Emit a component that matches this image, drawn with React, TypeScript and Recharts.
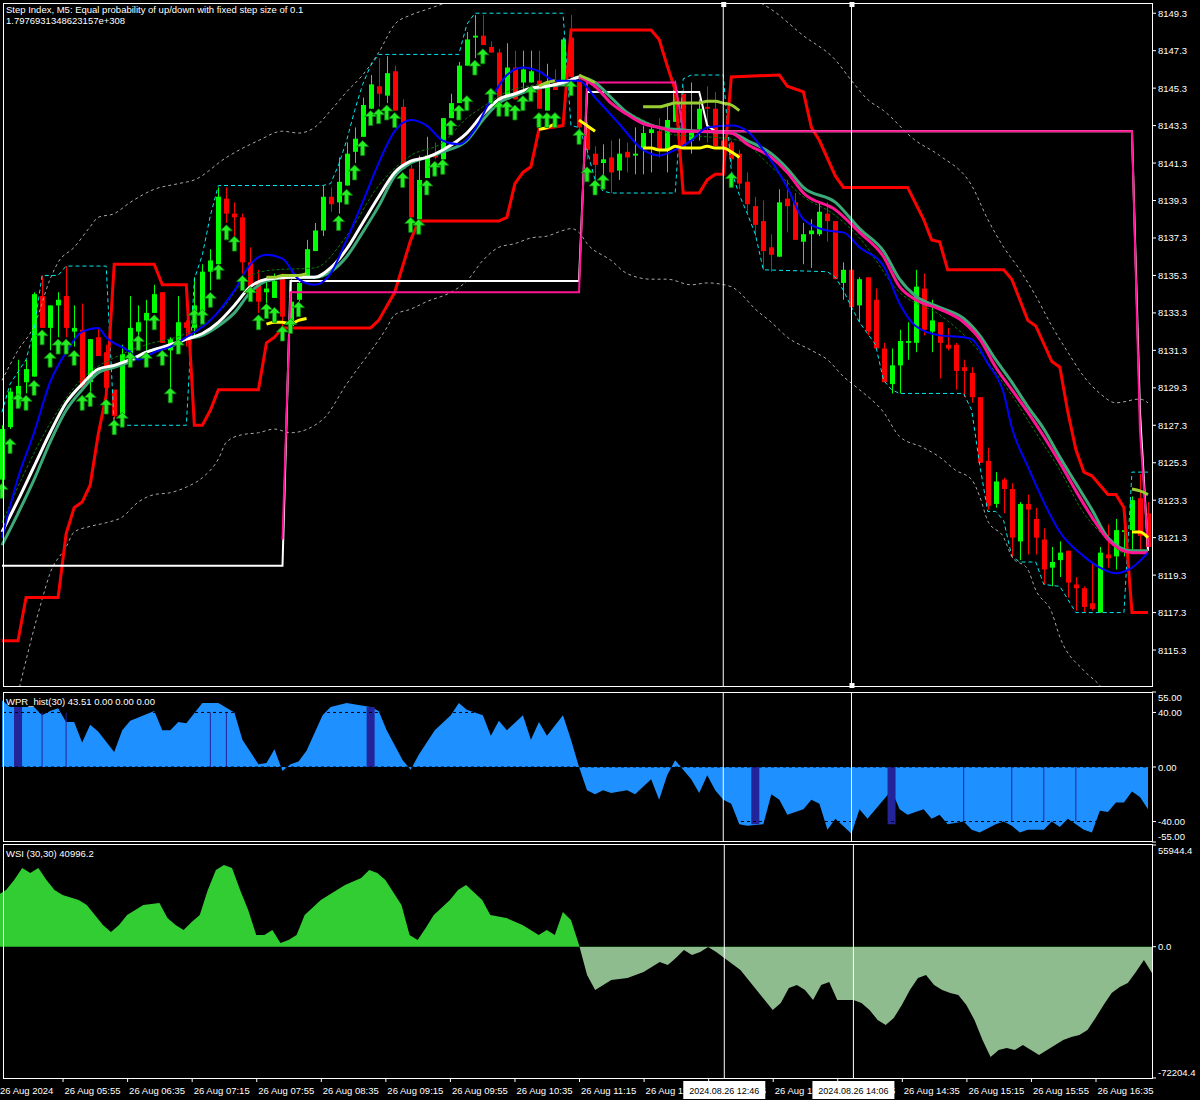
import React from "react";
import { Area, Bar, ComposedChart, Line, ReferenceLine, XAxis, YAxis } from "recharts";

const FONT = '"Liberation Sans", Arial, sans-serif';

// time axis: one label every 8 bars (M5)
const timeLabels = [
  "26 Aug 2024", "26 Aug 05:55", "26 Aug 06:35", "26 Aug 07:15", "26 Aug 07:55", "26 Aug 08:35",
  "26 Aug 09:15", "26 Aug 09:55", "26 Aug 10:35", "26 Aug 11:15", "26 Aug 11:55", "26 Aug 12:35",
  "26 Aug 13:15", "26 Aug 13:55", "26 Aug 14:35", "26 Aug 15:15", "26 Aug 15:55", "26 Aug 16:35",
];
const priceTicks = [8149.3, 8147.3, 8145.3, 8143.3, 8141.3, 8139.3, 8137.3, 8135.3, 8133.3, 8131.3, 8129.3, 8127.3, 8125.3, 8123.3, 8121.3, 8119.3, 8117.3, 8115.3];
const wprTicks = [55, 40, 0, -40, -55];
const wsiTicks = [55944.4, 0, -72204.4];

const opens = [
  8124.4, 8127.2, 8128.3, 8129.6, 8129.9, 8134.2, 8132.5, 8133.7,
  8134.2, 8132.3, 8132.4, 8129.6, 8132.0, 8131.2, 8129.2, 8127.9,
  8131.0, 8132.3, 8132.9, 8133.3, 8134.4, 8131.3, 8131.6, 8132.8,
  8132.5, 8133.1, 8135.5, 8135.9, 8139.4, 8138.6, 8138.4, 8136.0,
  8135.0, 8134.4, 8134.1, 8135.2, 8132.6, 8134.0, 8135.2, 8136.6,
  8137.7, 8139.5, 8139.2, 8140.1, 8141.9, 8142.7, 8144.2, 8145.4,
  8144.9, 8146.2, 8144.3, 8141.0, 8138.3, 8140.5, 8141.8, 8141.5,
  8143.7, 8144.5, 8146.5, 8148.0, 8148.1, 8147.5, 8147.2, 8144.7,
  8146.4, 8145.6, 8145.6, 8145.7, 8144.1, 8145.6, 8145.4, 8148.0,
  8145.7, 8143.2, 8141.8, 8141.3, 8141.6, 8140.9, 8141.9, 8141.7,
  8142.1, 8142.9, 8143.0, 8142.0, 8143.5, 8145.0, 8142.5, 8143.1,
  8144.3, 8144.2, 8142.5, 8142.4, 8141.8, 8140.3, 8139.0, 8138.2,
  8136.8, 8136.3, 8139.4, 8139.2, 8137.1, 8137.5, 8137.5, 8138.6,
  8138.2, 8134.9, 8135.6, 8133.7, 8135.2, 8134.0, 8131.4, 8129.5,
  8130.5, 8131.7, 8131.7, 8134.6, 8132.3, 8132.8, 8131.6, 8131.6,
  8130.4, 8130.1, 8128.8, 8125.4, 8123.1, 8124.4, 8123.9, 8121.1,
  8123.1, 8122.3, 8121.2, 8119.7, 8120.1, 8120.6, 8118.8, 8118.6,
  8117.8, 8117.3, 8120.4, 8120.3, 8121.6, 8121.7, 8123.4, 8122.6,
];
const highs = [
  8127.3, 8129.3, 8130.8, 8130.8, 8134.4, 8135.3, 8133.7, 8134.4,
  8135.8, 8133.7, 8133.8, 8131.9, 8132.5, 8131.6, 8129.2, 8131.6,
  8134.2, 8133.7, 8134.0, 8134.8, 8134.4, 8132.0, 8134.2, 8132.9,
  8135.2, 8135.9, 8136.7, 8140.0, 8140.0, 8139.2, 8138.6, 8136.8,
  8135.6, 8135.2, 8135.4, 8135.4, 8135.1, 8135.2, 8137.2, 8138.1,
  8140.1, 8140.0, 8141.6, 8142.4, 8143.2, 8144.8, 8146.0, 8146.9,
  8147.0, 8146.5, 8144.7, 8141.2, 8141.7, 8142.7, 8142.4, 8143.7,
  8145.0, 8146.7, 8148.3, 8149.2, 8149.2, 8147.8, 8147.4, 8147.7,
  8147.3, 8147.3, 8147.3, 8147.3, 8146.6, 8146.3, 8148.0, 8149.2,
  8146.0, 8143.5, 8142.2, 8142.3, 8142.5, 8142.6, 8142.4, 8143.2,
  8143.3, 8143.3, 8143.7, 8144.5, 8145.7, 8145.4, 8145.6, 8144.7,
  8145.4, 8145.1, 8142.9, 8142.5, 8142.0, 8140.8, 8139.5, 8139.3,
  8137.5, 8139.9, 8140.4, 8139.7, 8138.1, 8138.3, 8139.2, 8139.2,
  8138.2, 8136.0, 8135.6, 8135.2, 8135.2, 8134.6, 8131.7, 8131.4,
  8132.4, 8132.8, 8135.6, 8135.4, 8134.0, 8132.8, 8132.5, 8131.7,
  8130.8, 8130.4, 8128.8, 8126.1, 8124.8, 8124.5, 8124.2, 8123.2,
  8123.6, 8122.9, 8121.8, 8120.8, 8121.1, 8120.6, 8119.2, 8118.7,
  8119.9, 8120.8, 8122.0, 8122.3, 8122.1, 8123.5, 8124.7, 8123.2,
];
const lows = [
  8124.1, 8127.1, 8128.3, 8129.0, 8129.9, 8132.5, 8131.3, 8132.0,
  8132.0, 8131.5, 8129.3, 8129.0, 8131.0, 8128.1, 8127.6, 8127.6,
  8131.0, 8131.9, 8131.3, 8133.3, 8131.7, 8129.3, 8131.6, 8131.5,
  8132.0, 8133.1, 8134.5, 8135.9, 8138.1, 8137.4, 8135.4, 8134.7,
  8133.3, 8133.8, 8134.1, 8132.5, 8132.4, 8133.9, 8135.2, 8136.6,
  8137.4, 8138.7, 8138.6, 8140.1, 8141.3, 8142.7, 8144.2, 8144.3,
  8144.5, 8144.1, 8141.0, 8138.4, 8138.3, 8140.5, 8141.5, 8141.5,
  8143.7, 8144.5, 8146.5, 8146.9, 8147.6, 8147.2, 8144.7, 8144.7,
  8144.7, 8145.0, 8145.6, 8144.2, 8144.1, 8145.2, 8145.4, 8145.7,
  8143.1, 8141.5, 8140.1, 8140.0, 8139.7, 8140.4, 8140.8, 8140.7,
  8140.7, 8140.8, 8141.6, 8140.8, 8143.5, 8142.1, 8141.8, 8142.5,
  8142.4, 8142.2, 8141.8, 8141.2, 8139.9, 8138.6, 8137.4, 8135.6,
  8135.5, 8136.3, 8137.6, 8137.2, 8135.9, 8135.7, 8137.4, 8137.1,
  8135.1, 8134.0, 8133.6, 8132.8, 8132.1, 8131.4, 8129.6, 8129.0,
  8129.0, 8130.8, 8131.2, 8132.1, 8131.2, 8129.8, 8131.3, 8129.2,
  8128.8, 8128.5, 8125.3, 8122.8, 8122.9, 8122.6, 8120.2, 8120.1,
  8120.4, 8120.4, 8118.8, 8118.7, 8119.2, 8118.1, 8117.4, 8117.3,
  8117.4, 8117.3, 8119.7, 8119.6, 8120.3, 8120.6, 8120.6, 8120.6,
];
const closes = [
  8127.1, 8129.1, 8129.4, 8130.3, 8134.3, 8132.5, 8133.7, 8134.0,
  8132.5, 8132.5, 8129.3, 8131.9, 8131.0, 8129.3, 8127.8, 8131.1,
  8132.5, 8132.8, 8133.3, 8134.3, 8131.7, 8131.9, 8132.8, 8132.5,
  8133.7, 8135.5, 8136.1, 8139.5, 8138.6, 8138.4, 8136.0, 8134.7,
  8133.9, 8134.6, 8135.0, 8133.1, 8133.9, 8134.9, 8136.7, 8137.7,
  8139.5, 8139.1, 8140.3, 8141.8, 8142.6, 8144.4, 8145.5, 8145.0,
  8146.1, 8144.1, 8141.0, 8138.4, 8140.4, 8141.7, 8141.6, 8143.7,
  8144.5, 8146.5, 8147.9, 8148.1, 8147.6, 8147.2, 8144.7, 8146.4,
  8144.7, 8146.3, 8146.2, 8144.2, 8145.6, 8145.2, 8147.9, 8145.9,
  8143.2, 8142.0, 8141.2, 8141.5, 8140.8, 8141.8, 8141.6, 8141.8,
  8142.9, 8143.1, 8142.0, 8143.6, 8145.2, 8142.1, 8143.0, 8144.2,
  8144.2, 8142.2, 8142.2, 8141.5, 8140.2, 8139.1, 8138.0, 8136.6,
  8136.4, 8139.2, 8139.0, 8137.2, 8137.5, 8137.7, 8138.7, 8138.2,
  8135.1, 8135.6, 8133.6, 8135.1, 8132.3, 8131.4, 8129.6, 8130.5,
  8131.8, 8131.8, 8134.7, 8132.4, 8132.9, 8131.7, 8131.4, 8130.2,
  8130.2, 8128.8, 8125.3, 8123.0, 8124.3, 8123.9, 8121.3, 8123.1,
  8122.8, 8121.3, 8119.6, 8120.0, 8120.5, 8118.9, 8118.6, 8117.6,
  8117.5, 8120.5, 8120.2, 8121.7, 8121.7, 8123.3, 8121.4, 8120.8,
];

// indicator lines, read as [bar, value] knots
type K = [number, number][];
const blueMa: K = [[0,8121.3],[2,8124.5],[4,8126.9],[6,8129.6],[8,8131.2],[10,8132.3],[12,8132.5],[13,8132.0],[16,8131.2],[17,8130.8],[19,8131.2],[21,8131.5],[23,8132.0],[26,8132.9],[29,8134.5],[31,8135.9],[33,8136.4],[35,8136.2],[37,8135.1],[39,8134.8],[41,8135.4],[43,8137.2],[45,8139.2],[47,8141.3],[49,8143.0],[51,8143.6],[53,8143.3],[55,8142.5],[57,8142.3],[59,8143.1],[61,8144.7],[63,8146.0],[65,8146.4],[67,8146.2],[69,8145.7],[72,8145.7],[74,8144.8],[77,8143.4],[80,8142.0],[82,8141.7],[84,8142.0],[86,8142.5],[88,8143.2],[91,8143.3],[93,8143.0],[95,8142.0],[98,8140.0],[100,8138.3],[103,8137.7],[105,8137.6],[107,8136.8],[110,8135.8],[112,8133.8],[114,8132.6],[117,8132.1],[120,8132.0],[121,8131.9],[123,8130.6],[125,8129.0],[126,8127.2],[128,8125.1],[130,8123.2],[132,8121.6],[135,8120.3],[137,8119.7],[139,8119.4],[141,8119.7],[143,8120.5]];
const tealMa: K = [[0,8120.9],[2,8122.6],[4,8124.4],[6,8126.4],[8,8128.1],[10,8129.2],[12,8130.1],[14,8130.4],[16,8130.7],[18,8131.2],[21,8131.5],[23,8131.9],[25,8132.1],[27,8132.6],[29,8133.3],[31,8134.4],[33,8135.0],[36,8135.2],[39,8135.2],[41,8135.5],[43,8136.3],[45,8137.6],[47,8139.0],[49,8140.6],[51,8141.3],[53,8141.6],[55,8141.9],[58,8142.5],[60,8143.6],[62,8144.5],[64,8144.9],[66,8145.2],[68,8145.4],[70,8145.5],[72,8145.9],[74,8145.6],[76,8144.8],[78,8144.0],[80,8143.5],[82,8143.2],[84,8143.1],[87,8143.0],[91,8142.9],[93,8142.5],[96,8141.8],[98,8141.0],[100,8140.0],[104,8139.2],[107,8137.8],[110,8136.6],[112,8135.1],[114,8134.2],[117,8133.6],[120,8133.0],[122,8132.1],[124,8130.8],[126,8129.6],[128,8128.3],[130,8127.1],[132,8125.6],[134,8124.2],[136,8122.8],[138,8121.3],[141,8120.6],[143,8120.6]];
const maRising: K = [[0,8121.6],[2,8123.3],[4,8125.1],[6,8126.9],[8,8128.5],[10,8129.5],[12,8130.3],[14,8130.5],[16,8130.8],[18,8131.2],[21,8131.6],[23,8131.9],[25,8132.2],[27,8132.8],[29,8133.7],[31,8134.7],[33,8135.1],[36,8135.2],[39,8135.2],[41,8135.7],[43,8136.7],[45,8138.1],[47,8139.5],[49,8140.8],[51,8141.4],[53,8141.6],[55,8142.0],[58,8142.9],[60,8143.9],[62,8144.7],[64,8145.0],[66,8145.3],[68,8145.4],[70,8145.6],[72,8145.9]];
const maFalling: K = [[72,8145.9],[74,8145.4],[76,8144.5],[78,8143.9],[80,8143.4],[82,8143.2],[84,8143.0],[87,8143.0],[91,8142.9],[93,8142.3],[96,8141.6],[98,8140.8],[100,8139.7],[104,8138.8],[107,8137.6],[110,8136.3],[112,8134.7],[114,8134.0],[117,8133.5],[120,8132.8],[122,8131.9],[124,8130.4],[126,8129.2],[128,8128.0],[130,8126.7],[132,8125.3],[134,8123.8],[136,8122.4],[138,8121.2],[141,8120.5],[143,8120.5]];
const signalMa: K = [[0,8122.1],[6,8127.4],[10,8129.8],[14,8130.9],[18,8131.6],[23,8132.2],[27,8133.3],[31,8135.3],[34,8135.6],[39,8135.7],[43,8137.4],[47,8140.1],[51,8141.7],[55,8142.4],[58,8143.7],[60,8144.3],[63,8145.1],[67,8145.5],[70,8145.7],[72,8145.8],[76,8144.5],[80,8143.6],[84,8142.8],[88,8142.7],[92,8142.5],[96,8141.1],[100,8139.5],[104,8138.5],[107,8137.3],[112,8134.4],[117,8133.2],[121,8131.7],[124,8130.1],[126,8128.9],[129,8126.9],[132,8124.9],[135,8122.6],[138,8121.2],[140,8120.5],[143,8120.5]];
const redStop: K = [[0,8115.8],[2,8115.8],[3,8118.1],[7,8118.1],[8,8121.5],[9,8122.9],[10,8123.2],[11,8124.1],[12,8126.8],[13,8128.9],[14,8135.9],[19,8135.9],[20,8134.8],[23,8134.8],[24,8127.3],[25,8127.3],[26,8128.1],[27,8129.2],[32,8129.2],[33,8131.7],[34,8132.0],[35,8132.5],[46,8132.5],[47,8132.9],[49,8134.4],[51,8137.2],[52,8138.2],[62,8138.2],[63,8138.4],[64,8140.2],[65,8140.8],[66,8141.1],[67,8143.1],[70,8143.3],[71,8148.4],[81,8148.4],[82,8147.9],[83,8146.5],[84,8145.2],[85,8139.7],[87,8139.7],[88,8140.4],[89,8140.7],[90,8140.7],[91,8145.9],[97,8146.0],[98,8145.4],[100,8145.1],[101,8143.2],[102,8142.5],[104,8140.6],[105,8140.0],[113,8140.0],[115,8138.3],[116,8137.2],[117,8137.1],[118,8135.6],[125,8135.6],[126,8135.1],[128,8132.9],[129,8132.6],[131,8130.7],[132,8130.4],[133,8128.0],[134,8126.0],[135,8124.8],[136,8124.6],[138,8123.6],[139,8123.6],[140,8122.9],[141,8117.3],[143,8117.3]];
const whiteStep: K = [[0,8119.8],[35,8119.8],[36,8135.0],[72,8135.0],[73,8145.1],[87,8145.1],[88,8143.3],[89,8143.0],[141,8143.0],[142,8128.0],[143,8120.6]];
const pinkStep: K = [[35,8121.2],[36,8134.4],[72,8134.4],[73,8145.6],[84,8145.6],[85,8143.0],[141,8143.0],[142,8127.0],[143,8120.8]];
const envUpper: K = [[0,8129.7],[2,8131.3],[4,8132.6],[6,8135.1],[7,8136.0],[9,8136.8],[11,8137.9],[12,8138.4],[14,8138.6],[16,8139.2],[19,8139.9],[22,8140.2],[24,8140.4],[28,8141.6],[32,8142.5],[35,8143.0],[37,8142.9],[39,8143.2],[41,8144.1],[43,8145.1],[45,8146.0],[47,8147.2],[49,8148.7],[51,8149.2],[53,8149.5],[55,8149.8],[60,8150.6],[70,8151.2],[80,8151.4],[88,8150.8],[94,8150.0],[96,8149.5],[100,8148.1],[104,8146.8],[106,8145.7],[108,8144.7],[110,8144.1],[114,8142.5],[117,8141.7],[121,8140.1],[123,8138.3],[125,8136.8],[127,8135.6],[129,8134.2],[131,8132.6],[133,8131.2],[135,8129.9],[137,8129.0],[139,8128.5],[142,8128.7],[143,8128.5]];
const envLower: K = [[2,8113.0],[5,8118.0],[6,8119.4],[8,8120.8],[9,8121.6],[11,8121.9],[13,8122.1],[15,8122.4],[17,8123.2],[19,8123.6],[21,8123.7],[23,8124.0],[25,8124.5],[27,8125.5],[28,8126.4],[30,8126.8],[32,8126.9],[34,8127.1],[36,8126.9],[40,8127.6],[43,8129.5],[48,8132.5],[49,8133.2],[51,8133.5],[53,8133.9],[56,8134.4],[58,8135.0],[60,8136.1],[62,8136.8],[64,8137.0],[66,8137.3],[68,8137.4],[70,8137.7],[71,8137.8],[72,8137.6],[73,8137.0],[76,8136.1],[78,8135.4],[81,8135.1],[83,8135.1],[86,8134.8],[88,8134.9],[91,8134.7],[92,8134.4],[94,8133.5],[96,8132.8],[98,8132.0],[101,8131.3],[103,8130.8],[105,8129.9],[107,8129.2],[110,8128.0],[112,8126.7],[115,8126.1],[117,8125.6],[119,8124.9],[121,8124.4],[122,8123.5],[123,8122.2],[125,8121.3],[126,8120.3],[128,8119.6],[129,8118.5],[131,8117.3],[132,8116.0],[135,8114.2],[137,8113.4],[139,8112.1]];
const channel: K = [[0,8128.0],[1,8129.5],[3,8130.8],[4,8132.4],[5,8135.3],[7,8135.3],[8,8135.8],[13,8135.8],[14,8127.3],[23,8127.3],[24,8135.1],[25,8136.4],[26,8138.5],[27,8140.1],[40,8140.1],[41,8140.2],[42,8141.2],[43,8142.5],[44,8144.1],[45,8145.5],[46,8146.5],[47,8147.1],[57,8147.1],[58,8148.7],[59,8149.3],[70,8149.3],[71,8143.3],[72,8143.2],[73,8142.0],[74,8140.4],[75,8139.8],[76,8139.7],[84,8139.7],[85,8145.8],[86,8146.0],[90,8146.0],[91,8140.9],[92,8139.6],[93,8138.6],[94,8137.5],[95,8135.6],[103,8135.5],[104,8135.2],[105,8134.5],[106,8133.6],[107,8132.8],[108,8132.2],[109,8131.6],[110,8129.7],[111,8129.2],[112,8129.0],[120,8129.0],[121,8128.1],[122,8125.2],[123,8122.7],[124,8122.7],[125,8122.2],[126,8120.3],[127,8120.0],[129,8120.0],[130,8118.8],[132,8118.7],[133,8118.0],[134,8117.3],[140,8117.3],[141,8124.8],[143,8124.8]];
const yellowBand: K = [[33,8132.7],[34,8132.8],[35,8132.8],[36,8132.7],[37,8132.9],[38,8133.0],[67,8143.1],[68,8143.2],[69,8143.4],[72,8143.6],[73,8143.3],[74,8143.0],[80,8142.1],[81,8142.1],[82,8142.0],[83,8142.0],[84,8142.2],[85,8142.1],[86,8142.1],[87,8142.1],[88,8142.2],[89,8142.1],[90,8142.1],[91,8141.9],[92,8141.6],[141,8121.6],[142,8121.6],[143,8121.3]];
const oliveBand: K = [[33,8135.2],[34,8135.2],[35,8135.3],[36,8135.3],[37,8135.3],[38,8135.4],[67,8145.4],[68,8145.6],[69,8145.7],[72,8146.0],[73,8145.8],[74,8145.6],[80,8144.3],[81,8144.3],[82,8144.3],[83,8144.4],[84,8144.5],[85,8144.5],[86,8144.5],[87,8144.5],[88,8144.6],[89,8144.6],[90,8144.5],[91,8144.4],[92,8144.1],[141,8123.9],[142,8123.8],[143,8123.6]];
const buyArrows: K = [[0,8124.2],[1,8126.6],[2,8129.0],[3,8128.9],[4,8129.7],[5,8132.4],[6,8131.2],[7,8131.9],[8,8131.9],[9,8131.3],[10,8128.9],[11,8129.1],[13,8128.7],[14,8127.6],[15,8128.0],[16,8131.2],[17,8132.1],[18,8131.2],[19,8133.2],[20,8131.3],[21,8129.3],[22,8131.9],[24,8133.5],[25,8133.5],[26,8134.4],[27,8135.9],[28,8138.0],[29,8137.4],[30,8135.3],[31,8134.7],[32,8133.2],[33,8133.8],[34,8133.6],[35,8132.6],[36,8133.0],[37,8133.9],[42,8138.5],[43,8139.9],[44,8141.2],[45,8142.5],[46,8144.1],[47,8144.2],[48,8144.4],[49,8144.0],[50,8140.8],[51,8138.4],[52,8138.3],[53,8140.4],[54,8141.4],[55,8141.5],[56,8143.6],[57,8144.4],[58,8144.9],[59,8146.8],[60,8147.4],[61,8145.3],[62,8144.6],[63,8144.6],[64,8144.4],[65,8144.9],[66,8145.4],[67,8144.0],[68,8144.0],[69,8144.0],[71,8145.7],[72,8143.1],[73,8141.1],[74,8140.4],[75,8140.7],[91,8140.8]];

const wprHist: K = [[0,49],[1,44],[4,44],[5,38],[6,41],[7,43],[8,33],[9,33],[10,18],[11,31],[12,26],[14,11],[15,27],[16,34],[19,41],[20,27],[21,27],[22,33],[23,32],[25,47],[27,47],[29,40],[30,20],[32,2],[33,3],[34,13],[35,-3],[36,2],[37,4],[38,12],[40,38],[41,44],[43,47],[46,44],[47,41],[48,27],[50,5],[51,-2],[52,9],[54,27],[56,38],[57,47],[58,42],[60,38],[61,23],[62,34],[63,27],[65,38],[66,20],[67,33],[68,23],[70,38],[71,20],[72,0],[73,-17],[74,-20],[75,-17],[76,-19],[78,-17],[79,-20],[81,-9],[82,-24],[83,-6],[84,5],[85,-2],[86,-9],[87,-19],[88,-6],[89,-17],[90,-24],[91,-27],[92,-42],[93,-43],[95,-42],[96,-20],[97,-24],[98,-35],[100,-31],[101,-24],[102,-27],[103,-46],[104,-38],[106,-49],[107,-31],[108,-38],[110,-24],[111,-17],[112,-31],[113,-35],[115,-31],[116,-38],[117,-35],[118,-42],[120,-40],[121,-46],[122,-48],[124,-42],[125,-40],[126,-43],[127,-48],[128,-46],[130,-46],[131,-40],[132,-44],[133,-38],[135,-46],[136,-48],[137,-32],[138,-33],[139,-26],[140,-26],[141,-18],[142,-22],[143,-31]];
const wprWide: K = [[2,44],[46,44],[94,-42],[111,-42]];
const wprThin: K = [[5,40],[8,40],[26,40],[28,40],[120,-40],[126,-40],[130,-40],[134,-40]];

const wsiLine: K = [[0,28400],[1,31200],[2,36700],[3,43300],[4,40500],[5,43300],[6,36700],[7,31200],[8,28400],[10,25700],[11,22900],[12,17400],[13,11900],[14,8100],[15,11900],[16,17400],[17,20200],[18,22900],[20,24000],[21,15800],[22,11900],[23,9200],[24,13600],[25,17400],[26,31200],[27,42200],[28,44900],[29,43300],[30,31200],[31,20200],[32,6400],[33,6400],[34,9200],[35,2000],[36,3700],[37,6400],[38,17400],[40,25700],[41,28400],[42,31200],[43,33900],[45,37800],[46,42200],[47,40500],[48,36700],[50,22900],[51,6400],[52,3700],[53,10300],[54,17400],[56,25700],[57,31200],[58,33900],[60,25700],[61,17400],[63,15800],[65,11900],[66,9200],[67,6400],[68,9200],[69,6400],[70,19100],[71,14700],[72,900],[73,-15600],[74,-23800],[75,-21100],[76,-18300],[78,-17200],[80,-13900],[82,-8400],[83,-10100],[84,-6200],[85,-1800],[86,-4600],[87,-2900],[88,-200],[89,-2900],[90,-6200],[92,-12800],[94,-23800],[95,-29300],[96,-34800],[97,-31000],[98,-22700],[99,-21100],[100,-23800],[101,-29300],[102,-21100],[103,-19400],[104,-29300],[106,-29300],[107,-31000],[108,-34800],[109,-40300],[110,-43100],[111,-39200],[112,-32100],[113,-23800],[114,-17200],[115,-15600],[116,-21100],[117,-23800],[118,-25500],[119,-26600],[120,-32100],[121,-40300],[122,-51300],[123,-60700],[124,-56800],[125,-55700],[126,-56800],[127,-54100],[128,-56800],[129,-59600],[130,-56800],[131,-54100],[132,-51300],[133,-49700],[134,-48600],[135,-45800],[136,-39200],[137,-32100],[138,-25500],[139,-22200],[140,-20000],[141,-13900],[142,-7300],[143,-14500]];

// crosshair bars and their date boxes on the time axis
const crossBars = [90, 106];
const crossText = ["2024.08.26 12:46", "2024.08.26 14:06"];

const pick = (pairs: K) => {
  const m = new Map(pairs);
  return (i: number) => (m.has(i) ? (m.get(i) as number) : null);
};
const look = {
  blue: pick(blueMa), teal: pick(tealMa), up: pick(maRising), down: pick(maFalling), sig: pick(signalMa),
  red: pick(redStop), wStep: pick(whiteStep), pStep: pick(pinkStep),
  envU: pick(envUpper), envL: pick(envLower), chan: pick(channel),
  yel: pick(yellowBand), oli: pick(oliveBand), arrow: pick(buyArrows),
  wpr: pick(wprHist), wide: pick(wprWide), thin: pick(wprThin), wsi: pick(wsiLine),
};

const rows = opens.map((o, i) => ({
  i, o, c: closes[i], range: [lows[i], highs[i]],
  blue: look.blue(i), teal: look.teal(i), maUp: look.up(i), maDown: look.down(i), sig: look.sig(i),
  red: look.red(i), wStep: look.wStep(i), pStep: look.pStep(i),
  envU: look.envU(i), envL: look.envL(i), chan: look.chan(i),
  yel: look.yel(i), oli: look.oli(i), arrow: look.arrow(i),
  wpr: look.wpr(i), mark: look.wide(i) ?? look.thin(i), markWide: look.wide(i) != null,
  wsi: look.wsi(i),
}));

function Candle(props: any) {
  const { x, y, width, height, payload } = props;
  if (x == null || y == null || !payload) return null;
  const [lo, hi] = payload.range;
  const top = Math.min(y, y + height);
  const h = Math.abs(height);
  const k = hi > lo ? h / (hi - lo) : 0;
  const cx = Math.round(x + width / 2) + 0.5;
  const color = payload.c >= payload.o ? "#00ff00" : "#ff0000";
  const bTop = top + (hi - Math.max(payload.o, payload.c)) * k;
  const bBot = top + (hi - Math.min(payload.o, payload.c)) * k;
  return (
    <g>
      <line x1={cx} x2={cx} y1={top} y2={top + h} stroke={color} strokeWidth={1} />
      <rect x={cx - 2.5} y={bTop} width={5} height={Math.max(1, bBot - bTop)} fill={color} />
    </g>
  );
}

function ArrowDot(props: any) {
  const { cx, cy, value } = props;
  if (value == null || cx == null || cy == null || isNaN(cy)) return null;
  const d = `M${cx},${cy} L${cx + 6},${cy + 6} L${cx + 2},${cy + 6} L${cx + 2},${cy + 15} L${cx - 2},${cy + 15} L${cx - 2},${cy + 6} L${cx - 6},${cy + 6} Z`;
  return <path d={d} fill="#22ee22" stroke="#0d800d" strokeWidth={0.8} />;
}

function WprMark(props: any) {
  const { x, y, width, height, payload } = props;
  if (!payload || payload.mark == null) return null;
  const top = Math.min(y, y + height);
  const w = payload.markWide ? 8 : 1;
  return <rect x={x + width / 2 - w / 2} y={top} width={w} height={Math.abs(height)} fill="#24249a" />;
}

const axisTick = (digits: number, lo: number, hi: number) => (p: any) => {
  const ty = Math.min(hi, Math.max(lo, p.y));
  return (
    <g>
      <line x1={p.x - 6} x2={p.x - 2} y1={p.y} y2={p.y} stroke="#fff" />
      <text x={p.x} y={ty} dy={3.5} fill="#fff" fontSize={9.5} fontFamily={FONT}>
        {Number(p.payload.value).toFixed(digits)}
      </text>
    </g>
  );
};

// time labels; the crosshair bars come last in the tick list so their boxes sit on top
const timeTick = (p: any) => {
  const k = crossBars.indexOf(p.payload.value);
  if (k >= 0) {
    return (
      <g>
        <rect x={p.x - 41} y={p.y - 1} width={82} height={18} fill="#fff" />
        <text x={p.x} y={p.y + 12} textAnchor="middle" fill="#000" fontSize={9} fontFamily={FONT}>{crossText[k]}</text>
      </g>
    );
  }
  return (
    <g>
      <line x1={p.x + 0.5} x2={p.x + 0.5} y1={p.y - 4} y2={p.y} stroke="#fff" />
      <text x={p.x + 2} y={p.y + 12} fill="#fff" fontSize={9.5} fontFamily={FONT}>
        {timeLabels[p.payload.value / 8]}
      </text>
    </g>
  );
};

// small square handles on the crosshair lines
const handle = (bottom: boolean) => (p: any) => {
  const vb = p.viewBox || {};
  return (
    <g fill="#fff">
      <rect x={vb.x - 2} y={vb.y - 1} width={5} height={5} />
      {bottom ? <rect x={vb.x - 2} y={vb.y + vb.height - 3} width={5} height={5} /> : null}
    </g>
  );
};

const line = (key: string, color: string, width: number, extra: any = {}) => (
  <Line key={key} dataKey={key} stroke={color} strokeWidth={width} dot={false} activeDot={false}
    connectNulls type="monotone" isAnimationActive={false} {...extra} />
);

const tickIdx = [...timeLabels.map((_, k) => k * 8), ...crossBars];
const wsiMax = wsiTicks[0];
const wsiMin = wsiTicks[2];

export default function App() {
  return (
    <div style={{ position: "fixed", left: 0, top: 0, width: 1200, height: 1100, background: "#000", overflow: "hidden", fontFamily: FONT }}>
      <div style={{ position: "absolute", left: 0, top: 0 }}>
        <ComposedChart width={1200} height={690} data={rows} margin={{ top: 3, right: 0, bottom: 4, left: -2 }}>
          <XAxis dataKey="i" hide />
          <YAxis orientation="right" width={48} type="number" domain={[8113.38, 8149.845]} allowDataOverflow
            ticks={priceTicks} interval={0} axisLine={false} tickLine={false} tickSize={4} tickMargin={2}
            tick={axisTick(1, -1e9, 1e9)} />
          <Bar dataKey="range" barSize={6} shape={(p: any) => <Candle {...p} />} isAnimationActive={false} />
          {line("chan", "#00e8f0", 1, { type: "linear", strokeDasharray: "4 3" })}
          {line("envU", "#a8a8a8", 1, { strokeDasharray: "3 3" })}
          {line("envL", "#a8a8a8", 1, { strokeDasharray: "3 3" })}
          {line("red", "#ff0000", 3, { type: "linear" })}
          {line("wStep", "#ffffff", 2, { type: "linear" })}
          {line("pStep", "#ff1493", 2, { type: "linear" })}
          {line("sig", "#0a7a0a", 1, { strokeDasharray: "3 2" })}
          {line("teal", "#3caa78", 3)}
          {line("maUp", "#ffffff", 3)}
          {line("maDown", "#ff1493", 3)}
          {line("blue", "#0000ff", 2)}
          {line("yel", "#ffff00", 3, { connectNulls: false })}
          {line("oli", "#9acd32", 3, { connectNulls: false })}
          <Line dataKey="arrow" stroke="none" dot={(p: any) => <ArrowDot key={`a${p.index}`} {...p} />}
            activeDot={false} connectNulls={false} isAnimationActive={false} />
          {crossBars.map((b, k) => (
            <ReferenceLine key={b} x={b} stroke="#ffffff" strokeWidth={1} label={handle(k === 1)} />
          ))}
        </ComposedChart>
      </div>

      <div style={{ position: "absolute", left: 0, top: 690 }}>
        <ComposedChart width={1200} height={155} data={rows} margin={{ top: 2, right: 0, bottom: 3, left: -2 }}>
          <XAxis dataKey="i" hide />
          <YAxis orientation="right" width={48} type="number" domain={[-55, 55]} allowDataOverflow
            ticks={wprTicks} interval={0} axisLine={false} tickLine={false} tickSize={4} tickMargin={2}
            tick={axisTick(2, 7, 146)} />
          <Area dataKey="wpr" type="linear" stroke="none" fill="#1e90ff" fillOpacity={1} baseValue={0}
            connectNulls dot={false} activeDot={false} isAnimationActive={false} />
          <Bar dataKey="mark" barSize={8} shape={(p: any) => <WprMark {...p} />} isAnimationActive={false} />
          <ReferenceLine y={40} stroke="#000" strokeDasharray="3 3" />
          <ReferenceLine y={0} stroke="#000" strokeDasharray="3 3" />
          <ReferenceLine y={-40} stroke="#000" strokeDasharray="3 3" />
          {crossBars.map((b) => <ReferenceLine key={b} x={b} stroke="#ffffff" strokeWidth={1} />)}
        </ComposedChart>
      </div>

      <div style={{ position: "absolute", left: 0, top: 843 }}>
        <ComposedChart width={1200} height={257} data={rows} margin={{ top: 2, right: 0, bottom: 0, left: -2 }}>
          <defs>
            <linearGradient id="wsiFill" gradientUnits="userSpaceOnUse" x1="0" y1="2" x2="0" y2="235">
              <stop offset={wsiMax / (wsiMax - wsiMin)} stopColor="#32cd32" />
              <stop offset={wsiMax / (wsiMax - wsiMin)} stopColor="#8fbc8f" />
            </linearGradient>
          </defs>
          <XAxis dataKey="i" ticks={tickIdx} interval={0} height={22} axisLine={false} tickLine={false}
            tickSize={4} tickMargin={0} tick={timeTick} />
          <YAxis orientation="right" width={48} type="number" domain={[wsiMin, wsiMax]} allowDataOverflow
            ticks={wsiTicks} interval={0} axisLine={false} tickLine={false} tickSize={4} tickMargin={2}
            tick={axisTick(1, 7, 229)} />
          <Area dataKey="wsi" type="linear" stroke="none" fill="url(#wsiFill)" fillOpacity={1} baseValue={0}
            connectNulls dot={false} activeDot={false} isAnimationActive={false} />
          {crossBars.map((b) => <ReferenceLine key={b} x={b} stroke="#ffffff" strokeWidth={1} />)}
        </ComposedChart>
      </div>

      <svg width={1200} height={1100} style={{ position: "absolute", left: 0, top: 0, pointerEvents: "none" }}>
        <rect x={3.5} y={3.5} width={1149} height={683} fill="none" stroke="#fff" />
        <rect x={3.5} y={692.5} width={1149} height={149} fill="none" stroke="#fff" />
        <rect x={3.5} y={844.5} width={1149} height={234} fill="none" stroke="#fff" />
        <g fill="#fff" fontSize={9.5} fontFamily={FONT} style={{ whiteSpace: "pre" }}>
          <text x={6} y={13}>Step Index, M5:  Equal probability of up/down with fixed step size of 0.1</text>
          <text x={6} y={24}>1.7976931348623157e+308</text>
          <text x={6} y={705}>WPR_hist(30) 43.51 0.00 0.00 0.00</text>
          <text x={6} y={857}>WSI (30,30) 40996.2</text>
        </g>
      </svg>
    </div>
  );
}
